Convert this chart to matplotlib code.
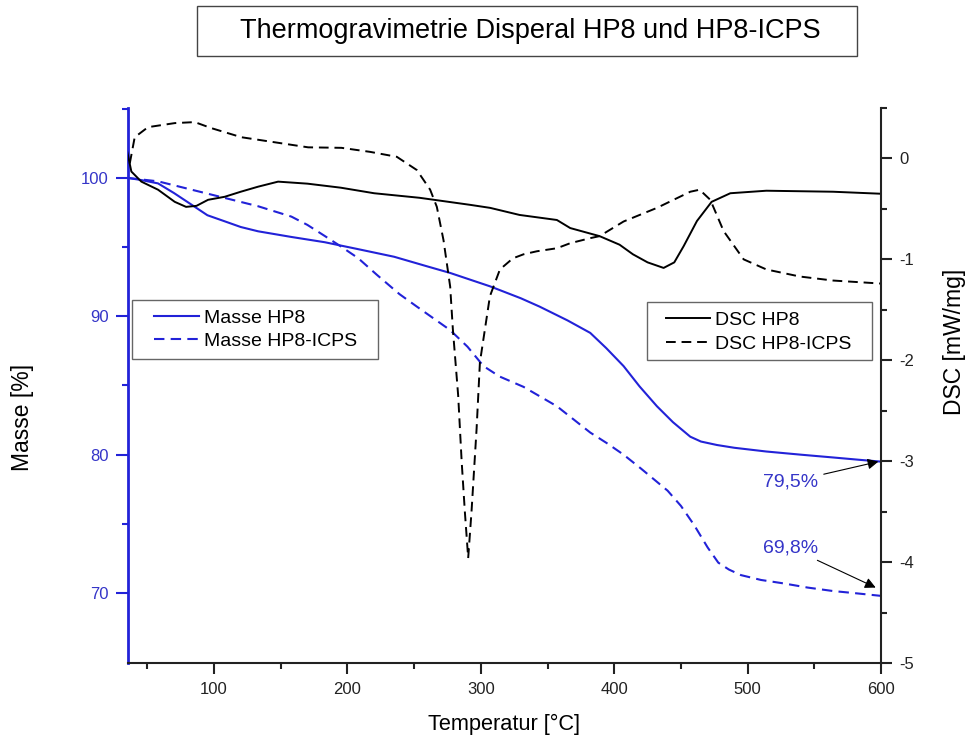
import matplotlib
matplotlib.use('Agg')
import matplotlib.pyplot as plt
from matplotlib.patches import Rectangle
from matplotlib.ticker import FixedLocator

plt.rcParams['font.family'] = ['Liberation Sans', 'DejaVu Sans']
plt.rcParams['axes.unicode_minus'] = False

# Masse HP8 (TG), Temperatur in °C / Masse in %
t_masse_hp8 = [35, 45, 58, 70, 83, 95, 108, 120, 133, 158, 183, 208, 235, 260, 277,
               307, 330, 344, 365, 382, 394, 407, 419, 432, 444, 457, 465, 477, 490,
               514, 540, 564, 585, 600]
masse_hp8 = [100.0, 99.85, 99.6, 98.9, 98.07, 97.3, 96.86, 96.45, 96.14, 95.73, 95.35,
             94.85, 94.3, 93.6, 93.13, 92.16, 91.3, 90.7, 89.7, 88.8, 87.7, 86.4, 84.93,
             83.5, 82.35, 81.3, 80.95, 80.7, 80.5, 80.23, 80.0, 79.8, 79.62, 79.5]

# Masse HP8-ICPS
t_masse_icps = [35, 58, 83, 108, 133, 158, 170, 183, 195, 208, 222, 239, 252, 277, 290,
                302, 314, 332, 357, 382, 395, 407, 420, 430, 440, 450, 460, 470, 478,
                486, 495, 510, 527, 545, 564, 580, 600]
masse_icps = [100.0, 99.75, 99.15, 98.55, 97.95, 97.2, 96.6, 95.8, 95.05, 94.2, 93.0,
              91.6, 90.7, 89.0, 87.8, 86.4, 85.65, 84.9, 83.5, 81.6, 80.8, 80.0, 79.0,
              78.2, 77.4, 76.3, 74.9, 73.3, 72.2, 71.7, 71.3, 70.95, 70.7, 70.4, 70.15,
              70.0, 69.8]

# DSC HP8, mW/mg
t_dsc_hp8 = [35, 38, 45.5, 58, 70.5, 79, 86.8, 95.5, 108, 120, 133, 148, 170, 195, 220,
             254, 292, 307, 329, 357, 367, 389, 404, 414, 425, 437, 445, 452, 462, 473,
             487, 514, 564, 600]
dsc_hp8 = [0.06, -0.13, -0.23, -0.31, -0.43, -0.48, -0.47, -0.41, -0.38, -0.33, -0.28,
           -0.23, -0.25, -0.29, -0.345, -0.39, -0.46, -0.49, -0.56, -0.61, -0.69, -0.77,
           -0.855, -0.95, -1.03, -1.085, -1.03, -0.87, -0.62, -0.43, -0.345, -0.32,
           -0.33, -0.35]

# DSC HP8-ICPS
t_dsc_icps = [36.8, 40.5, 50.5, 70.5, 85.5, 98, 120.5, 145.5, 170.5, 195.5, 217, 237,
              252, 262, 267, 272, 277, 279, 283, 285.6, 288, 290.5, 293, 296.8, 299.3,
              306.8, 314.3, 324, 332, 342, 357, 367, 382, 389, 407, 432, 457, 464, 472,
              482, 497, 514, 539, 564, 600]
dsc_icps = [-0.05, 0.21, 0.31, 0.35, 0.36, 0.30, 0.21, 0.16, 0.11, 0.105, 0.065, 0.016,
            -0.115, -0.31, -0.48, -0.81, -1.27, -1.69, -2.35, -3.0, -3.5, -3.96, -3.5,
            -2.68, -2.02, -1.365, -1.10, -0.99, -0.95, -0.92, -0.89, -0.84, -0.79, -0.77,
            -0.625, -0.49, -0.33, -0.31, -0.41, -0.72, -1.0, -1.10, -1.17, -1.21, -1.24]

BLUE = '#2222d8'
LBLUE = '#3535c8'
DASH = (0, (5, 3))

fig = plt.figure(figsize=(9.67, 7.37), dpi=100)
ax = fig.add_axes([0.1324, 0.1004, 0.7787, 0.7531])
ax2 = ax.twinx()

l1, = ax.plot(t_masse_hp8, masse_hp8, color=BLUE, lw=1.5, label='Masse HP8')
l2, = ax.plot(t_masse_icps, masse_icps, color=BLUE, lw=1.5, ls=DASH, label='Masse HP8-ICPS')
l3, = ax2.plot(t_dsc_hp8, dsc_hp8, color='black', lw=1.4, label='DSC HP8')
l4, = ax2.plot(t_dsc_icps, dsc_icps, color='black', lw=1.4, ls=DASH, label='DSC HP8-ICPS')

ax.set_xlim(35.5, 600)
ax.set_ylim(64.95, 105.05)
ax2.set_ylim(-5, 0.5)

ax.set_xticks([100, 200, 300, 400, 500, 600])
ax.xaxis.set_minor_locator(FixedLocator([50, 150, 250, 350, 450, 550]))
ax.set_yticks([70, 80, 90, 100])
ax.yaxis.set_minor_locator(FixedLocator([75, 85, 95, 105]))
ax2.set_yticks([0, -1, -2, -3, -4, -5])
ax2.yaxis.set_minor_locator(FixedLocator([0.5, -0.5, -1.5, -2.5, -3.5, -4.5]))

ax.tick_params(axis='x', which='major', direction='out', length=8, width=1.5,
               labelsize=12, pad=6, colors='#222222')
ax.tick_params(axis='x', which='minor', direction='out', length=4, width=1.5, color='#222222')
ax.tick_params(axis='y', which='major', direction='out', length=9, width=1.5,
               color=BLUE, labelcolor=LBLUE, labelsize=12, pad=5)
ax.tick_params(axis='y', which='minor', direction='out', length=4.5, width=1.5, color=BLUE)
ax2.tick_params(axis='y', which='major', direction='out', length=8, width=1.5,
                colors='#222222', labelsize=12, pad=5)
ax2.tick_params(axis='y', which='minor', direction='out', length=4, width=1.5, color='#222222')

for s in ['top', 'right']:
    ax.spines[s].set_visible(False)
for s in ['top', 'left', 'bottom']:
    ax2.spines[s].set_visible(False)
ax.spines['left'].set_color(BLUE)
ax.spines['left'].set_linewidth(2)
ax.spines['bottom'].set_color('#222222')
ax.spines['bottom'].set_linewidth(1.5)
ax2.spines['right'].set_color('#222222')
ax2.spines['right'].set_linewidth(1.5)

# Legendenrahmen
ax2.add_patch(Rectangle((0.0053, 0.5477), 0.3267, 0.1063, transform=ax2.transAxes,
                        facecolor='white', edgecolor='#666666', lw=1.0, zorder=3))
ax2.add_patch(Rectangle((0.689, 0.546), 0.2987, 0.104, transform=ax2.transAxes,
                        facecolor='white', edgecolor='#666666', lw=1.0, zorder=3))

leg1 = ax2.legend(handles=[l1, l2], loc='center left', bbox_to_anchor=(0.0215, 0.6005),
                  frameon=False, fontsize=14, handlelength=2.3, handletextpad=0.25,
                  borderpad=0, labelspacing=0.3)
ax2.add_artist(leg1)
ax2.legend(handles=[l3, l4], loc='center left', bbox_to_anchor=(0.701, 0.596),
           frameon=False, fontsize=14, handlelength=2.3, handletextpad=0.25,
           borderpad=0, labelspacing=0.3)

arrow = dict(arrowstyle='-|>', color='black', lw=0.8, mutation_scale=16, shrinkA=2, shrinkB=0)
ax.annotate('79,5%', xy=(598, 79.5), xytext=(532.3, 78.04), color=LBLUE, fontsize=14,
            ha='center', va='center', arrowprops=arrow, annotation_clip=False)
ax.annotate('69,8%', xy=(596, 70.4), xytext=(532.3, 73.27), color=LBLUE, fontsize=14,
            ha='center', va='center', arrowprops=arrow, annotation_clip=False)

# Achsentitel
fig.text(504 / 967, 0.017, 'Temperatur [°C]', ha='center', va='center', fontsize=15.7)
fig.text(23 / 967, 1 - 417 / 737, 'Masse [%]', ha='center', va='center', rotation=90,
         fontsize=16.5)
fig.text(954 / 967, 1 - 342 / 737, 'DSC [mW/mg]', ha='center', va='center', rotation=90,
         fontsize=16.5)

# Titel im Kasten
fig.patches.append(Rectangle((197 / 967, 1 - 56 / 737), 660 / 967, 50 / 737,
                             transform=fig.transFigure, fill=False, edgecolor='#444444', lw=1.0))
fig.text(530 / 967, 1 - 31 / 737, 'Thermogravimetrie Disperal HP8 und HP8-ICPS',
         ha='center', va='center', fontsize=19.5)

fig.savefig('out.png', dpi=100)
